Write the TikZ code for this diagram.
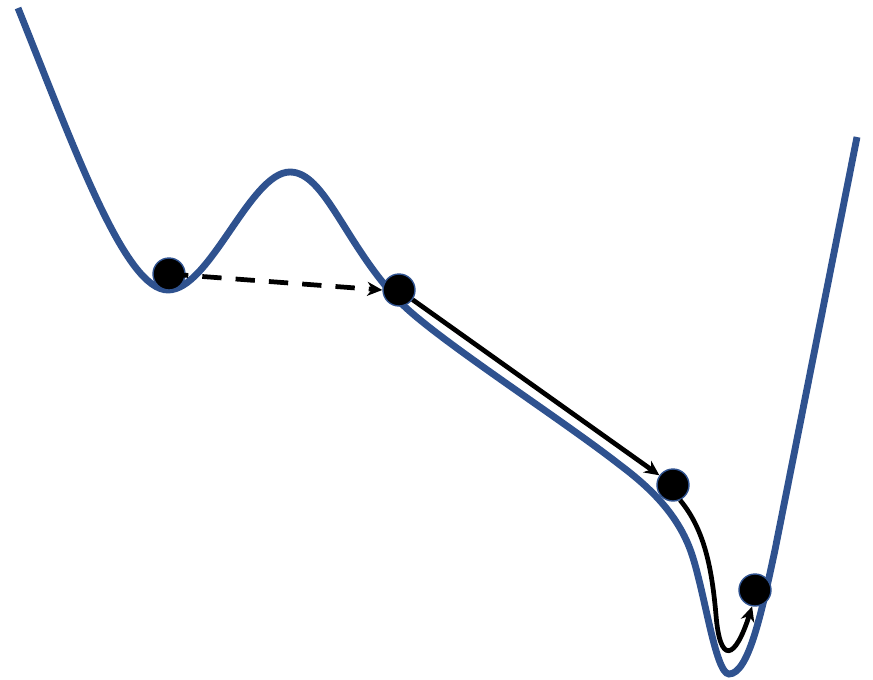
\documentclass[tikz,border=0pt]{standalone}
\usetikzlibrary{arrows.meta}
\definecolor{curveblue}{RGB}{47,82,143}
\tikzset{
    ball/.style={circle, fill=black, draw=curveblue, line width=0.4pt, minimum size=3.2mm, inner sep=0pt},
    move/.style={line width=1.35pt, -{Stealth[length=1.5mm, width=1.4mm]}},
}
\begin{document}
\begin{tikzpicture}[x=0.1mm, y=-0.1mm]
    \useasboundingbox (0,0) rectangle (873,680);
    % loss curve
    \draw[curveblue, line width=1.95pt] (18,8) .. controls (75,150) and (125,290) .. (168,290)
        .. controls (210,290) and (250,172) .. (290,172)
        .. controls (325,172) and (345,245) .. (400,302)
        .. controls (435,338) and (560,418) .. (620,465)
        .. controls (648,486) and (676,512) .. (690,549)
        .. controls (704,586) and (715,674) .. (729,674)
        .. controls (749,674) and (762,610) .. (775,550) -- (857,137);
    % balls
    \node[ball] (b1) at (169,274) {};
    \node[ball] (b2) at (399,290) {};
    \node[ball] (b3) at (673,485) {};
    \node[ball] (b4) at (755,590) {};
    % jumps
    \draw[move, dash pattern=on 5.5pt off 4pt] (b1.center) -- (b2.west);
    \draw[move] (b2) -- (b3);
    \draw[move] (b3.-65) .. controls (705,530) and (712,570) .. (716,615)
        .. controls (720,665) and (735,660) .. (b4.-100);
\end{tikzpicture}
\end{document}
